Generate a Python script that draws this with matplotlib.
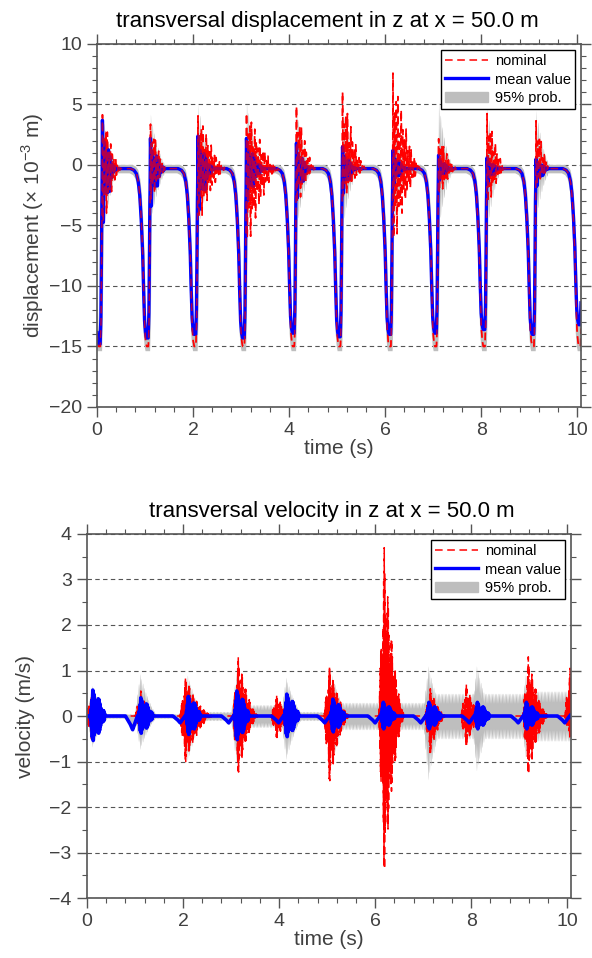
import numpy as np
import matplotlib.pyplot as plt
from matplotlib.lines import Line2D
from matplotlib.patches import Patch
from matplotlib.ticker import MultipleLocator

plt.rcParams['font.family'] = ['Liberation Sans', 'DejaVu Sans']
plt.rcParams['mathtext.fontset'] = 'custom'
plt.rcParams['mathtext.rm'] = 'Liberation Sans'
plt.rcParams['path.simplify'] = False

# ---- values ----
# time (s) where each cycle climbs out of its trough
rise_t = [0.10, 1.10, 2.09, 3.10, 4.14, 5.10, 6.15, 7.10, 8.11, 9.13, 10.10]
# trough depth (x1e-3 m)
trough_mean = [-14.8, -14.3, -14.0, -14.3, -13.9, -14.2, -14.0, -13.9, -13.6, -14.0, -13.2]
trough_nom = [-15.0, -15.0, -15.0, -15.0, -15.0, -15.0, -15.0, -15.0, -15.0, -15.0, -15.0]
flat_level = -0.3

# drop / trough / rise profile around a rise instant (fraction of trough depth)
drop_dt = [-0.40, -0.33, -0.28, -0.24, -0.21, -0.18, -0.15, -0.13, -0.11, -0.09, -0.07,
           -0.035, -0.02, -0.008, 0.0, 0.012]
drop_frac = [0.0, 0.01, 0.03, 0.08, 0.16, 0.30, 0.50, 0.72, 0.90, 0.97, 1.0,
             1.0, 0.85, 0.5, 0.2, 0.0]

# oscillation after each rise (x1e-3 m): peak up, peak down, duration (s)
disp_mean_hi = [4.0, 2.5, 2.7, 2.5, 2.1, 1.8, 1.5, 1.1, 0.9, 0.8, 0.0]
disp_mean_lo = [-5.5, -3.8, -4.2, -3.2, -3.0, -2.5, -1.6, -1.2, -1.5, -1.8, 0.0]
disp_mean_dur = [0.30, 0.32, 0.35, 0.38, 0.30, 0.30, 0.30, 0.28, 0.28, 0.28, 0.1]
disp_nom_hi = [5.3, 4.5, 5.2, 5.4, 6.0, 7.2, 8.8, 3.2, 5.4, 4.8, 1.0]
disp_nom_lo = [-5.5, -3.2, -5.0, -7.0, -3.5, -2.8, -7.0, -2.5, -3.5, -1.8, 0.0]
disp_nom_dur = [0.40, 0.35, 0.60, 0.70, 0.40, 0.50, 0.60, 0.40, 0.40, 0.30, 0.1]
disp_band_hi = [4.6, 4.5, 5.3, 5.5, 5.0, 5.3, 5.0, 5.5, 5.0, 4.8, 0.0]
disp_band_lo = [-6.0, -4.5, -5.0, -5.0, -5.0, -5.0, -5.0, -5.0, -5.0, -4.0, 0.0]

# velocity (m/s)
vel_mean_amp = [0.57, 0.40, 0.43, 0.55, 0.48, 0.37, 0.30, 0.30, 0.30, 0.30, 0.22]
vel_mean_dip = [0.0, 0.30, 0.15, 0.15, 0.15, 0.15, 0.15, 0.15, 0.15, 0.15, 0.15]
vel_nom_peak = [0.10, 1.12, 2.05, 3.15, 3.95, 5.05, 6.19, 7.15, 7.90, 9.19, 10.06]
vel_nom_hi = [0.55, 0.55, 0.85, 1.30, 0.45, 1.10, 3.70, 0.60, 0.70, 1.30, 1.05]
vel_nom_lo = [-0.55, -0.40, -1.05, -1.30, -0.50, -1.50, -3.55, -0.87, -0.70, -1.35, -0.50]
vel_nom_dur = [0.25, 0.30, 0.60, 0.45, 0.40, 0.45, 0.45, 0.35, 0.35, 0.45, 0.10]
vel_band_hi = [0.67, 0.93, 0.90, 0.90, 0.85, 0.90, 0.80, 1.10, 1.10, 0.90, 0.60]
vel_band_lo = [-0.68, -0.73, -0.98, -1.00, -0.95, -1.00, -0.80, -1.40, -1.20, -0.90, -0.50]
vel_band_floor = [0.05, 0.05, 0.10, 0.25, 0.10, 0.30, 0.30, 0.50, 0.50, 0.55, 0.55]

t = np.arange(0, 10.08, 0.001)


def decay(t0, dur, ramp=0.01, power=1.6):
    s = (t - t0) / dur
    return np.where(s < 0, np.clip(1 + (t - t0) / ramp, 0, 1), np.clip(1 - s, 0, 1) ** power)


def wiggle(t0, f, beat):
    c = np.cos(2 * np.pi * f * (t - t0))
    return c * (0.75 + 0.25 * np.cos(2 * np.pi * beat * (t - t0)))


def profile(shift, troughs):
    out = np.full_like(t, flat_level)
    for r, d in zip(rise_t, troughs):
        fr = np.interp(t + shift, r + np.array(drop_dt), drop_frac, left=0, right=0)
        out = np.minimum(out, flat_level + fr * (d - flat_level))
    return out


# displacement series
disp_mean = profile(0.0, trough_mean)
disp_nom = profile(-0.004, trough_nom)
shifted = [profile(s, trough_nom) for s in (-0.03, -0.015, 0, 0.015, 0.03)]
band_top = np.maximum.reduce(shifted) + 0.35
band_bot = np.minimum.reduce(shifted) - 0.35
for k, r in enumerate(rise_t):
    t0 = r + 0.012
    w = wiggle(t0, 24, 7)
    e = decay(t0, disp_mean_dur[k])
    disp_mean += np.where(w > 0, w * disp_mean_hi[k], -w * disp_mean_lo[k]) * e
    w = wiggle(t0, 29, 11)
    e = decay(t0, disp_nom_dur[k])
    disp_nom += np.where(w > 0, w * disp_nom_hi[k], -w * disp_nom_lo[k]) * e
    e = decay(t0, disp_mean_dur[k] + 0.12, power=2.2)
    g = 0.35 + 0.65 * np.abs(np.cos(2 * np.pi * 13 * (t - t0)))
    on = e > 0
    band_top = np.where(on, np.maximum(band_top, flat_level + disp_band_hi[k] * e * g), band_top)
    band_bot = np.where(on, np.minimum(band_bot, flat_level + disp_band_lo[k] * e * g), band_bot)
band_top = np.maximum(band_top, disp_mean + 0.3)
band_bot = np.minimum(band_bot, disp_mean - 0.3)

# velocity series
vel_mean = np.zeros_like(t)
vel_nom = np.zeros_like(t)
vband_top = np.zeros_like(t)
vband_bot = np.zeros_like(t)
for k, r in enumerate(rise_t):
    dip = np.interp(t, r + np.array([-0.30, -0.20, -0.15, -0.10, -0.05]), [0, -0.6, -1, -0.5, 0], left=0, right=0)
    vel_mean += dip * vel_mean_dip[k]
    t0 = r + 0.02
    w = wiggle(t0, 53, 8)
    vel_mean += w * vel_mean_amp[k] * decay(t0, 0.25, 0.06, power=0.6)
    p = vel_nom_peak[k]
    w = wiggle(p, 83, 13)
    e = decay(p, vel_nom_dur[k], 0.12, power=1.8)
    vel_nom += np.where(w > 0, w * vel_nom_hi[k], -w * vel_nom_lo[k]) * e
    e = decay(r, 0.40, 0.12)
    g = 0.55 + 0.45 * np.abs(np.cos(2 * np.pi * 17 * (t - r)))
    nxt = rise_t[k + 1] if k + 1 < len(rise_t) else 11
    floor = np.where((t > r) & (t < nxt), vel_band_floor[k], 0)
    vband_top = np.maximum(vband_top, np.maximum(vel_band_hi[k] * e * g, floor * g))
    vband_bot = np.minimum(vband_bot, np.minimum(vel_band_lo[k] * e * g, -floor * g))
vband_top = np.maximum(vband_top, vel_mean + 0.04)
vband_bot = np.minimum(vband_bot, vel_mean - 0.04)

# ---- drawing ----
fig = plt.figure(figsize=(5.92, 9.58), dpi=100)
ax1 = fig.add_axes([0.1639, 0.5752, 0.8176, 0.3789])
ax2 = fig.add_axes([0.1470, 0.0626, 0.8176, 0.3800])

red = '#ff0000'
blue = '#0000ff'
grey = '#bebebe'
txt = '#404040'

ax1.fill_between(t, band_bot, band_top, color=grey, lw=0)
ax2.fill_between(t, vband_bot, vband_top, color=grey, lw=0)

ax1.plot(t, disp_nom, color=red, lw=1.1, dashes=(5, 3))
ax1.plot(t, disp_mean, color=blue, lw=2.4)
ax1.plot(t, disp_nom, color=red, lw=1.1, dashes=(5, 3), alpha=0.7)

ax2.plot(t, vel_nom, color=red, lw=1.1, dashes=(5, 3))
ax2.plot(t, vel_mean, color=blue, lw=2.6)

for ax, ylim, ymaj, ymin in [(ax1, (-20, 10), 5, 1), (ax2, (-4, 4), 1, 0.5)]:
    ax.set_xlim(0, 10.08)
    ax.set_ylim(*ylim)
    ax.xaxis.set_major_locator(MultipleLocator(2))
    ax.xaxis.set_minor_locator(MultipleLocator(0.4))
    ax.yaxis.set_major_locator(MultipleLocator(ymaj))
    ax.yaxis.set_minor_locator(MultipleLocator(ymin))
    ax.tick_params(which='both', direction='out', top=True, right=True, color='#555555',
                   labelcolor=txt, labelsize=14, pad=4)
    ax.tick_params(which='major', length=7, width=1)
    ax.tick_params(which='minor', length=3.5, width=0.8)
    for sp in ax.spines.values():
        sp.set_color('#555555')
        sp.set_linewidth(1.2)
    ax.yaxis.grid(True, linestyle=(0, (4, 3)), color='#555555', lw=0.8)
    ax.set_axisbelow(True)
    ax.set_xlabel('time (s)', fontsize=15, color=txt, labelpad=0)
    handles = [Line2D([], [], color=red, lw=1.1, dashes=(5, 3)),
               Line2D([], [], color=blue, lw=2.4),
               Patch(color=grey)]
    leg = ax.legend(handles, ['nominal', 'mean value', '95% prob.'], loc='upper right',
                    fontsize=10.5, fancybox=False, edgecolor='black', framealpha=1,
                    borderaxespad=0.4, handlelength=2.9, labelspacing=0.3,
                    borderpad=0.3, handletextpad=0.5)
    leg.get_frame().set_linewidth(1.0)

ax1.set_ylabel(r'displacement ($\times$ 10$^{-3}$ m)', fontsize=15, color=txt, labelpad=2)
ax2.set_ylabel('velocity (m/s)', fontsize=15, color=txt, labelpad=10)
ax1.set_title('transversal displacement in z at x = 50.0 m', fontsize=16, pad=12, x=0.475)
ax2.set_title('transversal velocity in z at x = 50.0 m', fontsize=16, pad=12, x=0.506)

fig.savefig('out.png', dpi=100)
